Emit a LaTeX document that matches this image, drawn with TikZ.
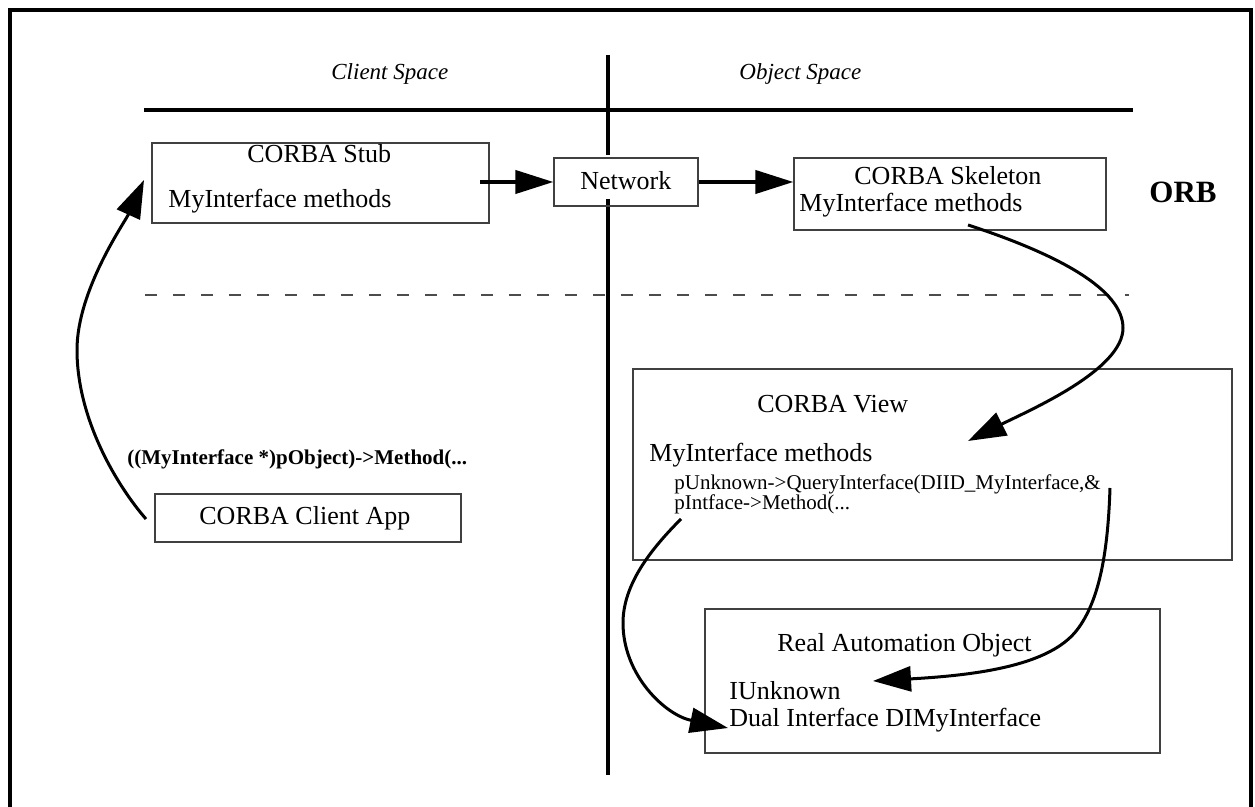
\documentclass[tikz,border=0pt]{standalone}
\usepackage{fontspec}
\setmainfont{Liberation Serif}
\usetikzlibrary{arrows.meta}
\begin{document}
\begin{tikzpicture}[x=0.5pt,y=-0.5pt,
  frameline/.style={line width=2pt, line join=miter},
  ruleline/.style={line width=1.7pt},
  divline/.style={line width=2pt},
  dashline/.style={line width=0.6pt, draw=black!70, dash pattern=on 6pt off 8pt},
  box/.style={draw=black!75, line width=0.6pt, inner sep=0pt, rectangle},
  txt/.style={inner sep=0pt, anchor=base west, font=\fontsize{13}{15}\selectfont},
  smalltxt/.style={inner sep=0pt, anchor=base west, font=\fontsize{10.5}{12}\selectfont},
  spacetxt/.style={inner sep=0pt, anchor=base west, font=\fontsize{11.5}{13}\selectfont\itshape},
  arr/.style={line width=2pt, -{Triangle[length=19pt,width=11.5pt]}},
  carr/.style={line width=1.5pt, -{Triangle[length=19pt,width=12.5pt]}}
]
\useasboundingbox (0,0) rectangle (1255,807);

% frame and separators
\draw[frameline] (10,807) -- (10,10) -- (1251,10) -- (1251,807);
\draw[ruleline] (144,110) -- (1133,110);
\draw[divline] (608,55) -- (608,155);
\draw[divline] (608,199) -- (608,775);
\draw[dashline] (145,295) -- (1129,295);

% headings
\node[spacetxt] (tcs) at (331,80) {Client Space};
\node[spacetxt] (tos) at (739,80) {Object Space};
\node[inner sep=0pt, anchor=base west, font=\fontsize{15.5}{18}\selectfont\bfseries] (orb) at (1149,203) {ORB};

% boxes
\node[box, minimum width=168.5pt, minimum height=40pt] (stub) at (320.5,183) {};
\node[box, minimum width=72pt, minimum height=24pt] (net) at (626,182) {};
\node[box, minimum width=156pt, minimum height=36pt] (skel) at (950,194) {};
\node[box, minimum width=153pt, minimum height=24pt] (client) at (308,518) {};
\node[box, minimum width=299.5pt, minimum height=95.5pt] (view) at (932.5,464.5) {};
\node[box, minimum width=227.5pt, minimum height=72pt] (real) at (932.5,681) {};

% box texts
\node[txt] (tstub) at (247,163) {CORBA Stub};
\node[txt] (tstubm) at (168,208) {MyInterface methods};
\node[txt] (tnet) at (580,190) {Network};
\node[txt] (tskel) at (854,185) {CORBA Skeleton};
\node[txt] (tskelm) at (799,212) {MyInterface methods};
\node[txt] (tclient) at (199,525) {CORBA Client App};
\node[inner sep=0pt, anchor=base west, font=\fontsize{10.5}{12}\selectfont\bfseries] (tcall) at (127,465) {((MyInterface *)pObject)->Method(...};
\node[txt] (tview) at (757,413) {CORBA View};
\node[txt] (tviewm) at (649,462) {MyInterface methods};
\node[smalltxt] (tpunk) at (674,490) {pUnknown->QueryInterface(DIID\_MyInterface,\&};
\node[smalltxt] (tpint) at (674,510) {pIntface->Method(...};
\node[txt] (treal) at (777,652) {Real Automation Object};
\node[txt] (tiunk) at (729,700) {IUnknown};
\node[txt] (tdual) at (729,727) {Dual Interface DIMyInterface};

% straight connectors
\coordinate (s1) at (480,182);
\draw[arr] (s1) -- (net.west);
\draw[arr] (net.east) -- (net.east -| skel.west);

% curved connectors
\coordinate (c1s) at (146,519);
\coordinate (c1m) at (77,350);
\coordinate (c1e) at (144,180);
\draw[carr] (c1s) .. controls (118,487) and (77,420) .. (c1m)
  .. controls (77,290) and (125,222) .. (c1e);

\coordinate (c2s) at (968,225);
\coordinate (c2m) at (1123,328);
\coordinate (c2e) at (968,441);
\draw[carr] (c2s) .. controls (1060,255) and (1123,290) .. (c2m)
  .. controls (1123,370) and (1030,410) .. (c2e);

\coordinate (c3s) at (1110,488);
\coordinate (c3m) at (1077,630);
\coordinate (c3e) at (873,681);
\draw[carr] (c3s) .. controls (1108,550) and (1100,600) .. (c3m)
  .. controls (1050,665) and (980,675) .. (c3e);

\coordinate (c4s) at (681,519);
\coordinate (c4m) at (623,623);
\coordinate (c4e) at (728,728);
\draw[carr] (c4s) .. controls (650,550) and (623,585) .. (c4m)
  .. controls (623,675) and (665,715) .. (c4e);
\end{tikzpicture}
\end{document}
